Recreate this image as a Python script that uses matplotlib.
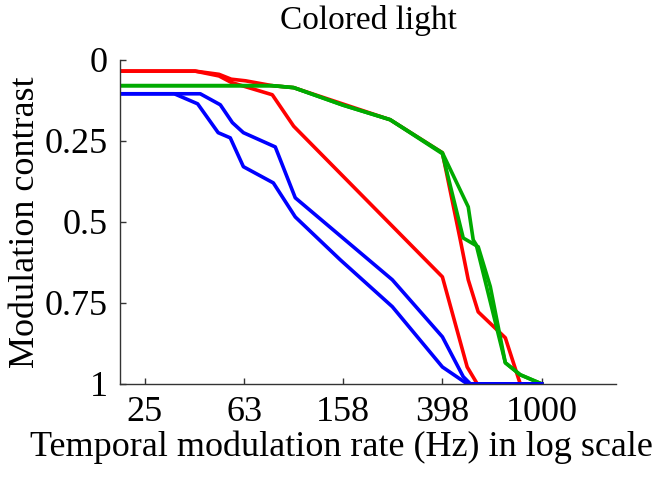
import matplotlib.pyplot as plt

# temporal modulation rate (Hz) and modulation contrast
red1_f = [20, 40, 50, 56, 64, 82, 100, 245, 398, 470, 506, 555, 714, 820, 1000]
red1_c = [0.035, 0.035, 0.045, 0.06, 0.065, 0.08, 0.086, 0.185, 0.287, 0.556, 0.679, 0.778, 0.858, 1.0, 1.0]

red2_f = [20, 40, 50, 56, 82, 100, 398, 501, 550, 1000]
red2_c = [0.035, 0.035, 0.05, 0.07, 0.108, 0.205, 0.67, 0.948, 1.0, 1.0]

green1_f = [20, 82, 100, 158, 245, 398, 506, 530, 545, 714, 820, 1000]
green1_c = [0.08, 0.08, 0.086, 0.14, 0.185, 0.287, 0.454, 0.556, 0.571, 0.935, 0.972, 1.0]

green2_f = [20, 82, 100, 158, 245, 398, 483, 555, 621, 714, 820, 1000]
green2_c = [0.08, 0.08, 0.086, 0.14, 0.185, 0.29, 0.55, 0.577, 0.70, 0.935, 0.972, 1.0]

blue1_f = [20, 33, 41, 49.6, 55.5, 62.7, 82.8, 101.5, 154, 250, 398, 501, 1000]
blue1_c = [0.105, 0.105, 0.136, 0.225, 0.241, 0.33, 0.38, 0.485, 0.617, 0.762, 0.948, 1.0, 1.0]

blue2_f = [20, 42, 50.6, 56.6, 62.7, 84.3, 101.5, 250, 398, 483, 516, 1000]
blue2_c = [0.105, 0.105, 0.139, 0.194, 0.225, 0.269, 0.426, 0.679, 0.855, 0.978, 1.0, 1.0]

xticks = [10**1.4, 10**1.8, 10**2.2, 10**2.6, 10**3]
xtick_labels = ['25', '63', '158', '398', '1000']
yticks = [0, 0.25, 0.5, 0.75, 1]
ytick_labels = ['0', '0.25', '0.5', '0.75', '1']

plt.rcParams['font.family'] = 'Liberation Serif'

fig = plt.figure(figsize=(6.71, 4.78), dpi=100)
ax = fig.add_axes([0.179, 0.197, 0.739, 0.678])

lw = 2.6
ax.plot(red1_f, red1_c, color='#ff0000', lw=lw)
ax.plot(red2_f, red2_c, color='#ff0000', lw=lw)
ax.plot(green1_f, green1_c, color='#00aa00', lw=lw)
ax.plot(green2_f, green2_c, color='#00aa00', lw=lw)
ax.plot(blue1_f, blue1_c, color='#0000ff', lw=lw)
ax.plot(blue2_f, blue2_c, color='#0000ff', lw=lw)

ax.set_xscale('log')
ax.set_xlim(10**1.3, 10**3.3)
ax.set_ylim(1, 0)
ax.minorticks_off()
ax.set_xticks(xticks)
ax.set_xticklabels(xtick_labels)
ax.set_yticks(yticks)
ax.set_yticklabels(ytick_labels)

for s in ['top', 'right']:
    ax.spines[s].set_visible(False)
for s in ['left', 'bottom']:
    ax.spines[s].set_color('#333333')
    ax.spines[s].set_linewidth(1.0)

ax.tick_params(direction='in', length=4, width=1, color='#333333', labelsize=26)
ax.tick_params(axis='x', pad=9)
ax.tick_params(axis='y', pad=9)

ax.set_xlabel('Temporal modulation rate (Hz) in log scale', fontsize=26)
ax.xaxis.set_label_coords(0.446, -0.145)
ax.set_ylabel('Modulation contrast', fontsize=26, labelpad=2)
ax.set_title('Colored light', fontsize=24, pad=22)

fig.savefig('out.png', dpi=100)
